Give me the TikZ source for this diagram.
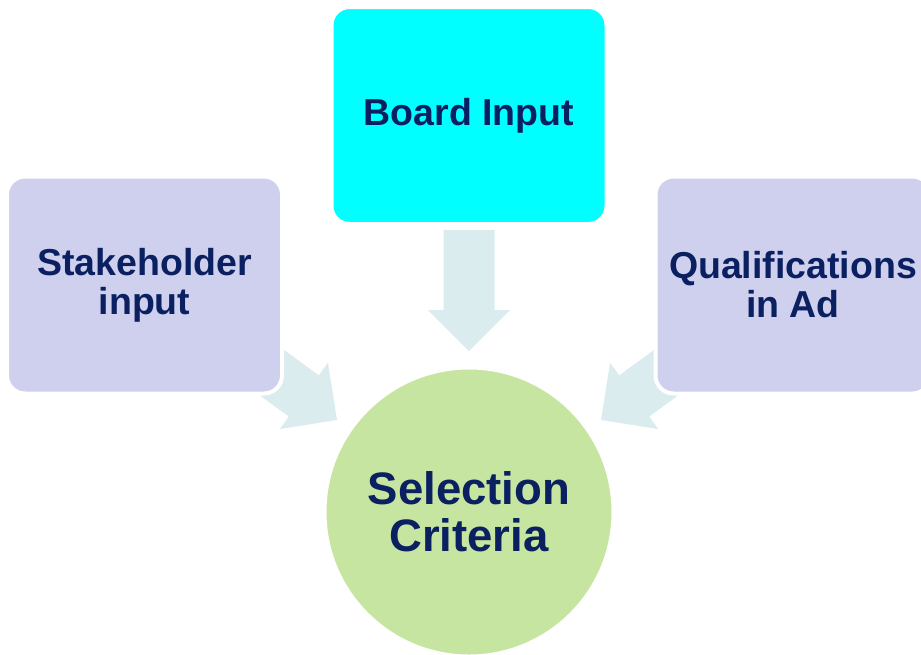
\documentclass[tikz,border=0pt]{standalone}
\usepackage{fontspec}
\setmainfont{Liberation Sans}
\begin{document}
\definecolor{boxpurple}{HTML}{CFCFEE}
\definecolor{boxcyan}{HTML}{00FFFF}
\definecolor{circgreen}{HTML}{C6E5A0}
\definecolor{arrowblue}{HTML}{DAECEE}
\definecolor{textnavy}{HTML}{0A2060}
\begin{tikzpicture}[x=1pt,y=-1pt,
  infobox/.style={rectangle, rounded corners=18pt, draw=white, line width=4pt,
    minimum width=275pt, minimum height=217pt, align=center,
    text=textnavy, font=\fontsize{37.5}{39}\selectfont\bfseries},
  goal/.style={circle, draw=white, line width=3pt, fill=circgreen,
    minimum size=288pt, align=center, text=textnavy,
    font=\fontsize{45.5}{47}\selectfont\bfseries},
  blockarrow/.pic={
    \fill[arrowblue] (0,0) -- (-41,41) -- (-41,25.5) -- (-121,25.5)
      -- (-121,-25.5) -- (-41,-25.5) -- (-41,-41) -- cycle;
  }]
\useasboundingbox (0,0) rectangle (921,654);
\begin{scope}
\clip (0,0) rectangle (921,654);
% block arrows feeding the criteria
\pic[rotate=-90] at (469,351) {blockarrow};
\pic[rotate=-36] at (337,420) {blockarrow};
\pic[rotate=-144] at (601,420) {blockarrow};
% sources
\node[infobox, fill=boxcyan] (board) at (469,115.5) {Board Input};
\node[infobox, fill=boxpurple] (stake) at (144.5,285) {Stakeholder\\input};
\node[infobox, fill=boxpurple] (quals) at (793,285) {Qualifications\\in Ad};
% result
\node[goal] (criteria) at (469,512) {Selection\\Criteria};
\end{scope}
\end{tikzpicture}
\end{document}
